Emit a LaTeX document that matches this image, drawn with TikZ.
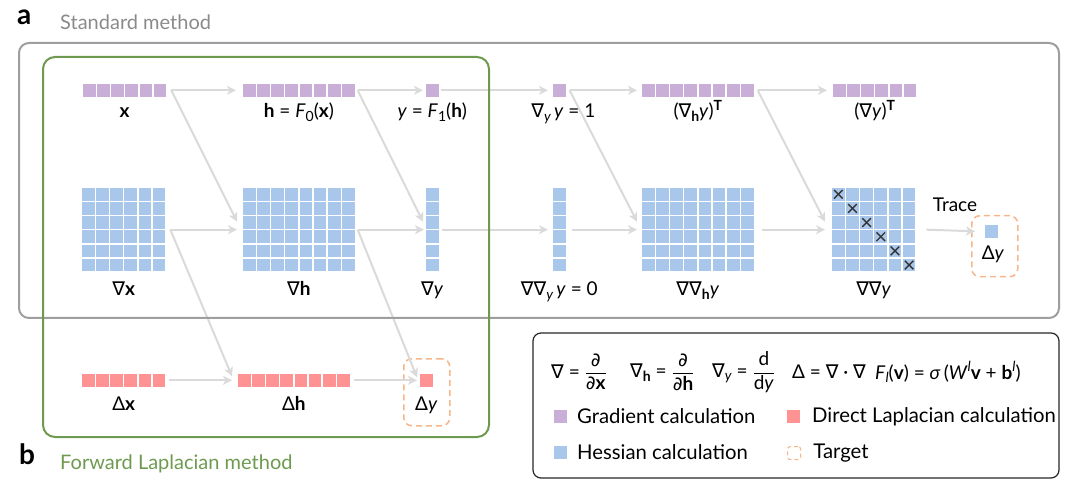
\documentclass[tikz,border=0pt]{standalone}
\usepackage{fontspec}
\usepackage{amsmath}
\setmainfont{Lato}
\newfontfamily\symf{DejaVu Sans}
\usetikzlibrary{arrows.meta,calc}
\definecolor{gpurple}{HTML}{C9AED8}
\definecolor{hblue}{HTML}{A9C7EB}
\definecolor{lred}{HTML}{FF9393}
\definecolor{arrgray}{HTML}{DADADA}
\definecolor{boxgray}{HTML}{9E9E9E}
\definecolor{fgreen}{HTML}{6E9A50}
\definecolor{torange}{HTML}{F7B68A}
\definecolor{txtgray}{HTML}{8A8A8A}
\newcommand\nab{{\symf ∇}}
\newcommand\sub[1]{\raisebox{-0.35ex}{\fontsize{14}{14}\selectfont #1}}
\newcommand\super[1]{\raisebox{0.75ex}{\fontsize{14}{14}\selectfont #1}}
\newcommand\sqgrid[6]{%
  \foreach \ii in {1,...,#4}{\foreach \jj in {1,...,#5}{%
    \fill[#6] ({#2+(\ii-1)*14.15},{#3+(\jj-1)*14.15}) rectangle ++(12.6,12.6);}}
  \node[inner sep=0pt,outer sep=0pt,minimum width={(#4-1)*14.15pt+12.6pt},
        minimum height={(#5-1)*14.15pt+12.6pt},anchor=north west] (#1) at (#2,#3) {};
}
\tikzset{
  arr/.style={draw=arrgray, line width=2pt, -{Stealth[length=9pt,width=9pt,inset=2.5pt]}},
  lbl/.style={font=\fontsize{19}{22}\selectfont, anchor=base, inner sep=0pt},
  lg/.style={font=\fontsize{19}{22}\selectfont, inner sep=0pt},
  lgi/.style={font=\fontsize{20.3}{22}\selectfont, inner sep=0pt, anchor=west},
  tgt/.style={draw=torange, line width=1.5pt, dash pattern=on 6pt off 4pt,
              rounded corners=8pt, inner sep=0pt, anchor=north west},
  xmark/.style={draw=black!80, line width=1.4pt}
}
\begin{document}
\begin{tikzpicture}[x=1pt,y=-1pt]
\useasboundingbox (0,0) rectangle (1071,486);
\coordinate (r1) at (0,118);
\coordinate (r2) at (0,296);
\coordinate (r3) at (0,410);
% row 1 gradient
\sqgrid{gx}{83}{84}{6}{1}{gpurple}
\sqgrid{gh}{243}{84}{8}{1}{gpurple}
\sqgrid{gy}{426}{84}{1}{1}{gpurple}
\sqgrid{gdy}{553}{84}{1}{1}{gpurple}
\sqgrid{gdhT}{642}{84}{8}{1}{gpurple}
\sqgrid{gdyT}{833}{84}{6}{1}{gpurple}
% row 2 hessian
\sqgrid{Gx}{82}{188}{6}{6}{hblue}
\sqgrid{Gh}{243}{188}{8}{6}{hblue}
\sqgrid{Gy}{426}{188}{1}{6}{hblue}
\sqgrid{Gdy}{553}{188}{1}{6}{hblue}
\sqgrid{Gdh}{642}{188}{8}{6}{hblue}
\sqgrid{Gdd}{832}{188}{6}{6}{hblue}
\sqgrid{Gt}{985}{225}{1}{1}{hblue}
\foreach \k in {0,...,5}{
  \draw[xmark] ({832+\k*14.15+6.3-4.3},{188+\k*14.15+6.3-4.3}) -- ++(8.6,8.6);
  \draw[xmark] ({832+\k*14.15+6.3-4.3},{188+\k*14.15+6.3+4.3}) -- ++(8.6,-8.6);
}
% row 3 laplacian
\sqgrid{Lx}{82}{374}{6}{1}{lred}
\sqgrid{Lh}{238}{374}{8}{1}{lred}
\sqgrid{Ly}{420}{374}{1}{1}{lred}
% targets
\node[tgt, minimum width=46pt, minimum height=61pt] (T1) at (971,215) {};
\node[tgt, minimum width=46pt, minimum height=67pt] (T2) at (403,358) {};
% arrows row 1
\draw[arr] ([xshift=5pt]gx.east) -- ([xshift=-7pt]gh.west);
\draw[arr] ([xshift=5pt]gx.east) -- ([xshift=-6pt,yshift=8pt]Gh.west);
\draw[arr] ([xshift=3pt]gh.east) -- ([xshift=-3pt]gy.west);
\draw[arr] ([xshift=3pt]gh.east) -- ([xshift=-3pt,yshift=8pt]Gy.west);
\draw[arr] ([xshift=2pt]gy.east) -- ([xshift=-5pt]gdy.west);
\draw[arr] ([xshift=4pt]gdy.east) -- ([xshift=-5pt]gdhT.west);
\draw[arr] ([xshift=4pt]gdy.east) -- ([xshift=-5pt,yshift=8pt]Gdh.west);
\draw[arr] ([xshift=4pt]gdhT.east) -- ([xshift=-6pt]gdyT.west);
\draw[arr] ([xshift=4pt]gdhT.east) -- ([xshift=-7pt,yshift=8pt]Gdd.west);
% arrows row 2
\draw[arr] ([xshift=5pt]Gx.east) -- ([xshift=-6pt]Gh.west);
\draw[arr] ([xshift=5pt]Gx.east) -- ([xshift=-6pt,yshift=4pt]Lh.west);
\draw[arr] ([xshift=3pt]Gh.east) -- ([xshift=-2pt]Gy.west);
\draw[arr] ([xshift=3pt]Gh.east) -- ([xshift=-3pt,yshift=3pt]Ly.west);
\draw[arr] ([xshift=3pt]Gy.east) -- ([xshift=-5pt]Gdy.west);
\draw[arr] ([xshift=6pt]Gdy.east) -- ([xshift=-5pt]Gdh.west);
\draw[arr] ([xshift=8pt]Gdh.east) -- ([xshift=-7pt]Gdd.west);
\draw[arr] ([xshift=11pt]Gdd.east) -- ([xshift=-10pt]Gt.west);
% arrows row 3
\draw[arr] ([xshift=4pt]Lx.east) -- ([xshift=-6pt]Lh.west);
\draw[arr] ([xshift=4pt]Lh.east) -- ([xshift=-3pt]Ly.west);
% frames
\draw[boxgray, line width=2pt, rounded corners=10pt] (19,43) rectangle (1059,318);
\draw[fgreen, line width=2pt, rounded corners=12pt] (43,57) rectangle (489,437);
\draw[black!85, line width=1.2pt, rounded corners=8pt] (533,333) rectangle (1059,478);
% headings
\node[font=\fontsize{28}{30}\selectfont\bfseries, anchor=base west, inner sep=0pt] (pa) at (17,25) {a};
\node[font=\fontsize{20}{22}\selectfont, text=txtgray, anchor=base west, inner sep=0pt] (ta) at (60,30) {Standard method};
\node[font=\fontsize{28}{30}\selectfont\bfseries, anchor=base west, inner sep=0pt] (pb) at (19,464) {b};
\node[font=\fontsize{20}{22}\selectfont, text=fgreen, anchor=base west, inner sep=0pt] (tb) at (60,469) {Forward Laplacian method};
% row 1 labels
\node[lbl] (lx) at (gx |- r1) {\textbf{x}};
\node[lbl] (lh) at (gh |- r1) {\textbf{h} = \textit{F}\sub{0}(\textbf{x})};
\node[lbl] (ly) at (gy |- r1) {\textit{y} = \textit{F}\sub{1}(\textbf{h})};
\node[lbl] (ldy) at ([xshift=4pt]gdy |- r1) {\nab\sub{\textit{y}}\,\textit{y} = 1};
\node[lbl] (ldhT) at (gdhT |- r1) {(\nab\sub{\textbf{h}}\textit{y})\super{\textbf{T}}};
\node[lbl] (ldyT) at (gdyT |- r1) {(\nab\textit{y})\super{\textbf{T}}};
% row 2 labels
\node[lbl] (lGx) at (Gx |- r2) {\nab\textbf{x}};
\node[lbl] (lGh) at (Gh |- r2) {\nab\textbf{h}};
\node[lbl] (lGy) at (Gy |- r2) {\nab\textit{y}};
\node[lbl] (lGdy) at (Gdy |- r2) {\nab\nab\sub{\textit{y}}\,\textit{y} = 0};
\node[lbl] (lGdh) at (Gdh |- r2) {\nab\nab\sub{\textbf{h}}\textit{y}};
\node[lbl] (lGdd) at (Gdd |- r2) {\nab\nab\textit{y}};
\node[lbl] (trace) at (955,211.5) {Trace};
\node[lbl] (lT1) at (993,260) {Δ\textit{y}};
% row 3 labels
\node[lbl] (lLx) at (Lx |- r3) {Δ\textbf{x}};
\node[lbl] (lLh) at (Lh |- r3) {Δ\textbf{h}};
\node[lbl] (lLy) at (Ly |- r3) {Δ\textit{y}};
% legend
\node[lg, anchor=west] (f1) at (551,372) {\nab{} = $\dfrac{\text{\symf ∂}}{\text{{\symf ∂}\textbf{x}}}$};
\node[lg, anchor=west] (f2) at (630,372) {\nab\sub{\textbf{h}} = $\dfrac{\text{\symf ∂}}{\text{{\symf ∂}\textbf{h}}}$};
\node[lg, anchor=west] (f3) at (712,372) {\nab\sub{\textit{y}} = $\dfrac{\text{d}}{\text{d\textit{y}}}$};
\node[lg, anchor=west] (f4) at (792,372) {Δ = \nab{} · \nab};
\node[lg, anchor=west] (f5) at (875,372) {\textit{F}\sub{\textit{l}}(\textbf{v}) = \textit{σ}\,(\textit{W}\super{\textit{l}}\textbf{v} + \textbf{b}\super{\textit{l}})};
\fill[gpurple] (554,410) rectangle ++(13,13);
\coordinate (kg) at (567,416.5);
\node[lgi] (lgg) at ([xshift=10pt]kg) {Gradient calculation};
\fill[hblue] (554,446) rectangle ++(13,13);
\coordinate (kh) at (567,452.5);
\node[lgi] (lgh) at ([xshift=10pt]kh) {Hessian calculation};
\fill[lred] (787,410) rectangle ++(13,13);
\coordinate (kl) at (800,416.5);
\node[lgi] (lgl) at ([xshift=12pt]kl) {Direct Laplacian calculation};
\node[draw=torange, line width=1.2pt, dash pattern=on 4pt off 3pt, rounded corners=2.5pt,
      minimum width=13pt, minimum height=13pt, inner sep=0pt, anchor=north west] (kt) at (787,446) {};
\node[lgi] (lgt) at ([xshift=12pt]kt.east) {Target};
\end{tikzpicture}
\end{document}
